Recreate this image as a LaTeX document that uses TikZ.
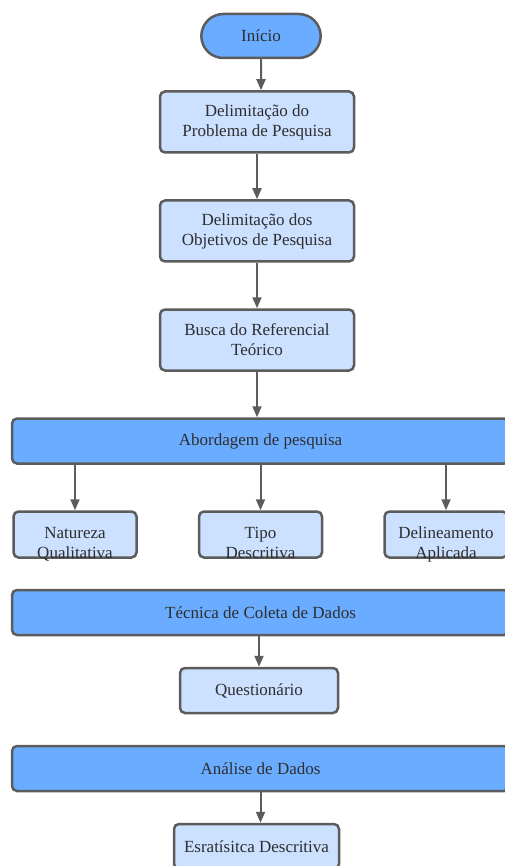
\documentclass[tikz,border=0pt]{standalone}
\usepackage{fontspec}
\setmainfont{Liberation Serif}
\usepackage{tikz}
\usetikzlibrary{arrows.meta,positioning,shapes.misc}
\definecolor{cdark}{HTML}{6AACFF}
\definecolor{clight}{HTML}{CCE0FF}
\definecolor{cline}{HTML}{5C5C5C}
\definecolor{ctext}{HTML}{2E2E2E}

\begin{document}
\begin{tikzpicture}[-,>={Triangle[length=11pt,width=9pt]},auto,node distance=45.5pt,
  start node/.style={rounded rectangle,fill=cdark,draw=cline,line width=2.5pt,
        minimum width=126pt,minimum height=44pt,text=ctext,font=\fontsize{17}{20}\selectfont},
  main node/.style={rectangle,rounded corners=5pt,fill=clight,draw=cline,line width=2.5pt,
        minimum width=194pt,minimum height=61pt,align=center,text=ctext,font=\fontsize{17}{20}\selectfont},
  bar node/.style={main node,fill=cdark,minimum width=497pt,minimum height=45pt},
  small node/.style={main node,minimum width=123pt,minimum height=46pt,text height=28pt,text depth=0pt},
  end node/.style={main node,minimum height=45pt}]
  \useasboundingbox (0,0) rectangle (504pt,-866pt);

  \node[start node] (1) at (261pt,-36pt) {Início};
  \node[main node] (2) [below=31pt of 1, xshift=-4pt] {Delimitação do\\Problema de Pesquisa};
  \node[main node] (3) [below=of 2] {Delimitação dos\\Objetivos de Pesquisa};
  \node[main node] (4) [below=of 3] {Busca do Referencial\\Teórico};
  \node[bar node] (5) [below=of 4, xshift=3.5pt] {Abordagem de pesquisa};
  \node[small node] (7) [below=of 5] {\begin{tabular}{@{}c@{}}Tipo\\Descritiva\end{tabular}};
  \node[small node] (6) [left=60pt of 7] {\begin{tabular}{@{}c@{}}Natureza\\Qualitativa\end{tabular}};
  \node[small node] (8) [right=60pt of 7] {\begin{tabular}{@{}c@{}}Delineamento\\Aplicada\end{tabular}};
  \node[bar node] (9) [below=30pt of 7] {Técnica de Coleta de Dados};
  \node[end node, minimum width=158pt] (10) [below=30.5pt of 9, xshift=-1.5pt] {Questionário};
  \node[bar node] (11) [below=30.5pt of 10, xshift=1.5pt] {Análise de Dados};
  \node[end node, minimum width=165pt] (12) [below=30.5pt of 11, xshift=-4pt] {Esratísitca Descritiva};

  \path[->,cline,line width=2pt]
    (1) edge (1 |- 2.north)
    (2) edge (3)
    (3) edge (4)
    (4) edge (4 |- 5.north)
    (6 |- 5.south) edge (6)
    (7 |- 5.south) edge (7)
    (8 |- 5.south) edge (8)
    (10 |- 9.south) edge (10)
    (11) edge (11 |- 12.north);
\end{tikzpicture}
\end{document}
